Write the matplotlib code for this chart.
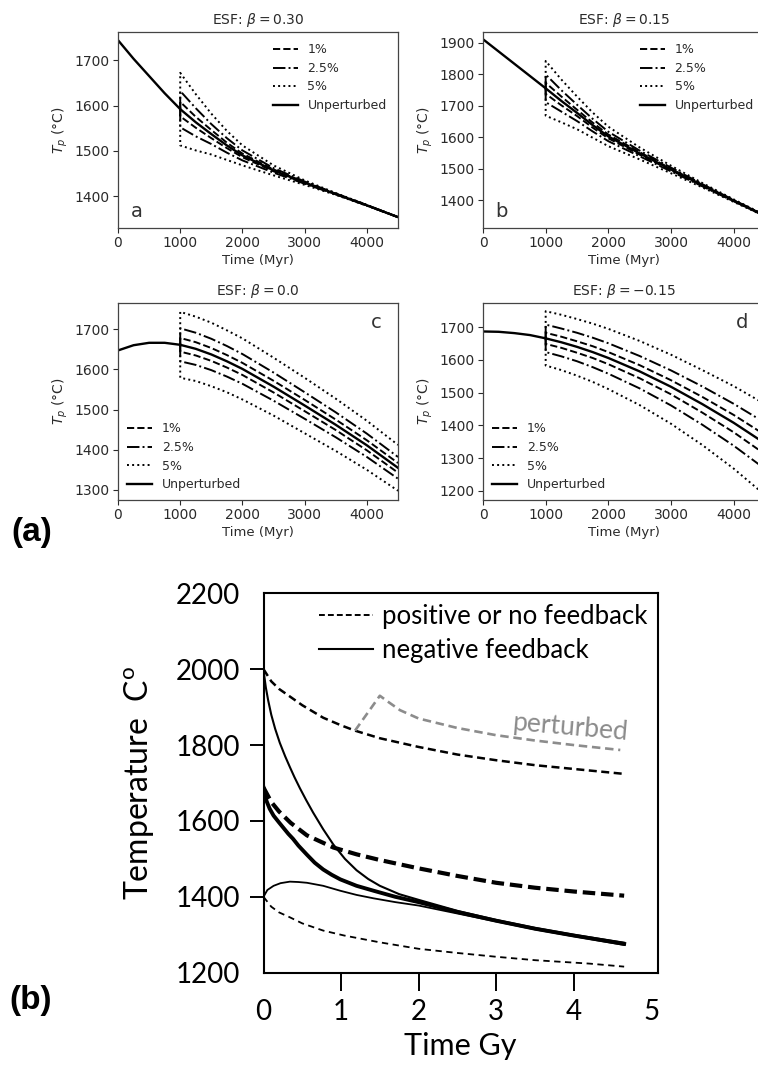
import matplotlib
matplotlib.use("Agg")
import matplotlib.pyplot as plt
from matplotlib.lines import Line2D

# ---------------- data: panel (a) ----------------
t_myr = [0, 250, 500, 750, 1000, 1250, 1500, 1750, 2000, 2500, 3000, 3500, 4000, 4500]
unpert_a = [1744, 1703, 1665, 1627, 1592, 1563, 1537, 1512, 1490, 1457, 1430, 1405, 1380, 1354]
unpert_b = [1911, 1872, 1833, 1794, 1755, 1715, 1677, 1638, 1602, 1548, 1497, 1447, 1398, 1350]
unpert_c = [1647, 1660, 1666, 1666, 1661, 1651, 1637, 1620, 1601, 1557, 1510, 1462, 1411, 1355]
unpert_d = [1687, 1686, 1682, 1676, 1666, 1654, 1640, 1624, 1606, 1565, 1518, 1465, 1408, 1345]
pert_start = 1000
# deviations (deg C) of perturbed runs from unperturbed, at t_myr >= 1000
dev_a_1 = [16, 12, 9, 6, 4, 2, 1, 0.5, 0, 0]
dev_a_25 = [40, 31, 22, 16, 11, 5, 2.5, 1, 0.5, 0]
dev_a_5 = [80, 62, 45, 32, 22, 11, 5, 2, 1, 0]
dev_b_1 = [17.5, 14, 10, 8, 6, 4, 2.4, 1.4, 0.8, 0.4]
dev_b_25 = [44, 34, 26, 20, 15, 9, 6, 3.5, 2, 1]
dev_b_5 = [87, 68, 52, 40, 31, 19, 12, 7, 4, 2]
dev_c_1 = [17, 16.5, 16, 15.5, 15, 14.5, 14, 13, 12.5, 12]
dev_c_25 = [41, 40, 39, 38, 37, 35, 33, 31, 29, 27]
dev_c_5 = [82, 80, 79, 77, 76, 72, 69, 65, 61, 57]
dev_d_1_up = [17, 17, 17, 18, 18, 19, 20, 22, 24, 26]
dev_d_1_dn = [17, 17, 18, 18, 19, 21, 23, 26, 29, 33]
dev_d_25_up = [42, 42, 43, 44, 45, 47, 50, 54, 58, 63]
dev_d_25_dn = [42, 43, 44, 46, 48, 52, 57, 63, 70, 78]
dev_d_5_up = [83, 84, 85, 87, 89, 93, 98, 104, 112, 120]
dev_d_5_dn = [83, 85, 88, 91, 95, 103, 113, 125, 140, 158]
titles = ["ESF: $\\beta = 0.30$", "ESF: $\\beta = 0.15$", "ESF: $\\beta = 0.0$", "ESF: $\\beta = -0.15$"]
panel_letters = ["a", "b", "c", "d"]
pert_labels = ["1%", "2.5%", "5%"]
yticks_top = [[1400, 1500, 1600, 1700], [1400, 1500, 1600, 1700, 1800, 1900],
              [1300, 1400, 1500, 1600, 1700], [1200, 1300, 1400, 1500, 1600, 1700]]
xticks_top = [0, 1000, 2000, 3000, 4000]

# ---------------- data: panel (b) ----------------
gy_pos_hi = [0, 0.1, 0.2, 0.34, 0.5, 0.77, 1.0, 1.18, 1.5, 2.0, 2.5, 3.0, 3.5, 4.0, 4.65]
T_pos_hi = [2000, 1968, 1948, 1928, 1905, 1872, 1852, 1838, 1818, 1795, 1775, 1760, 1747, 1737, 1724]
gy_perturbed = [1.18, 1.50, 1.6, 1.76, 2.0, 2.5, 3.0, 3.5, 4.0, 4.6]
T_perturbed = [1838, 1930, 1915, 1892, 1870, 1845, 1826, 1812, 1800, 1787]
gy_pos_mid = [0, 0.1, 0.2, 0.35, 0.56, 0.9, 1.2, 1.5, 2.0, 2.5, 3.0, 3.5, 4.0, 4.65]
T_pos_mid = [1688, 1650, 1625, 1595, 1562, 1530, 1512, 1497, 1475, 1455, 1437, 1424, 1414, 1403]
gy_pos_lo = [0, 0.1, 0.2, 0.34, 0.5, 0.77, 1.04, 1.5, 2.0, 2.5, 3.0, 3.5, 4.2, 4.65]
T_pos_lo = [1400, 1374, 1359, 1346, 1330, 1311, 1298, 1280, 1263, 1252, 1242, 1233, 1224, 1216]
gy_neg_hi = [0, 0.01, 0.03, 0.06, 0.1, 0.15, 0.21, 0.28, 0.34, 0.4, 0.47, 0.55, 0.64,
             0.77, 0.9, 1.05, 1.2, 1.35, 1.5, 1.75, 2.0, 2.5, 3.0, 3.5, 4.0, 4.65]
T_neg_hi = [2000, 1982, 1952, 1918, 1880, 1843, 1806, 1770, 1742, 1715, 1686, 1655, 1622,
            1578, 1538, 1500, 1470, 1447, 1429, 1407, 1392, 1363, 1339, 1318, 1300, 1279]
gy_neg_mid = [0, 0.02, 0.04, 0.08, 0.13, 0.2, 0.26, 0.32, 0.38, 0.45, 0.56, 0.66, 0.77,
              0.88, 0.99, 1.2, 1.42, 1.7, 2.0, 2.5, 3.0, 3.5, 4.0, 4.65]
T_neg_mid = [1688, 1668, 1652, 1632, 1614, 1596, 1581, 1566, 1553, 1535, 1511, 1490, 1472,
             1458, 1446, 1429, 1416, 1400, 1386, 1360, 1337, 1316, 1298, 1276]
gy_neg_lo = [0, 0.05, 0.13, 0.22, 0.34, 0.45, 0.56, 0.77, 0.99, 1.2, 1.42, 1.7, 2.0, 2.5, 3.0, 3.5, 4.0, 4.65]
T_neg_lo = [1400, 1418, 1429, 1436, 1440, 1439, 1437, 1429, 1416, 1405, 1396, 1386, 1377, 1356, 1335, 1314, 1296, 1273]
legend_b = ["positive or no feedback", "negative feedback"]

# ---------------- figure ----------------
W, H = 758, 1066
fig = plt.figure(figsize=(W / 100, H / 100), dpi=100)


def rect(l, r, t, b):
    return [l / W, 1 - b / H, (r - l) / W, (b - t) / H]


top_rects = [rect(118, 398, 32, 228), rect(483, 765, 32, 228),
             rect(118, 398, 303, 500), rect(483, 765, 303, 500)]
ylims = [(1330, 1762), (1311, 1934), (1275, 1765), (1172, 1774)]
unperts = [unpert_a, unpert_b, unpert_c, unpert_d]
devs_up = [[dev_a_1, dev_a_25, dev_a_5], [dev_b_1, dev_b_25, dev_b_5],
           [dev_c_1, dev_c_25, dev_c_5], [dev_d_1_up, dev_d_25_up, dev_d_5_up]]
devs_dn = [[dev_a_1, dev_a_25, dev_a_5], [dev_b_1, dev_b_25, dev_b_5],
           [dev_c_1, dev_c_25, dev_c_5], [dev_d_1_dn, dev_d_25_dn, dev_d_5_dn]]
styles = ["--", "-.", ":"]
gray = "#2a2a2a"

for i in range(4):
    ax = fig.add_axes(top_rects[i])
    base = unperts[i]
    k0 = t_myr.index(pert_start)
    tp = t_myr[k0:]
    bp = base[k0:]
    for j in range(3):
        up = [b + d for b, d in zip(bp, devs_up[i][j])]
        dn = [b - d for b, d in zip(bp, devs_dn[i][j])]
        ax.plot([tp[0]] + tp, [bp[0]] + up, styles[j], color="black", lw=1.4,
                label=pert_labels[j])
        ax.plot([tp[0]] + tp, [bp[0]] + dn, styles[j], color="black", lw=1.4)
    ax.plot(t_myr, base, "-", color="black", lw=1.7, label="Unperturbed")
    ax.set_xlim(0, 4500)
    ax.set_ylim(*ylims[i])
    ax.set_xticks(xticks_top)
    ax.set_yticks(yticks_top[i])
    ax.tick_params(labelsize=10, colors=gray, length=3.5, width=0.8, pad=2.5)
    for s in ax.spines.values():
        s.set_color("#444444")
        s.set_linewidth(0.9)
    ax.set_title(titles[i], fontsize=10, color=gray, pad=6)
    ax.set_xlabel("Time (Myr)", fontsize=9.5, color=gray, labelpad=2.5)
    ax.set_ylabel("$T_p$ (°C)", fontsize=10, color=gray, labelpad=3)
    if i < 2:
        ax.legend(loc="upper right", frameon=False, fontsize=9, labelspacing=0.45,
                  handlelength=2.0, borderaxespad=0.5, labelcolor=gray)
        ax.text(0.045, 0.035, panel_letters[i], transform=ax.transAxes, fontsize=14,
                color="#333333", ha="left", va="bottom")
    else:
        ax.legend(loc="lower left", frameon=False, fontsize=9, labelspacing=0.45,
                  handlelength=2.0, borderaxespad=0.3, labelcolor=gray)
        ax.text(0.94, 0.95, panel_letters[i], transform=ax.transAxes, fontsize=14,
                color="#333333", ha="right", va="top")

fig.text(32 / W, 1 - 533 / H, "(a)", fontsize=24, fontweight="bold",
         family="Liberation Sans", ha="center", va="center")
fig.text(31 / W, 1 - 1001 / H, "(b)", fontsize=24, fontweight="bold",
         family="Liberation Sans", ha="center", va="center")

# ---------------- bottom panel ----------------
fb = "Lato"
axb = fig.add_axes(rect(263.5, 657.5, 593.3, 972.7))
axb.plot(gy_pos_hi, T_pos_hi, color="black", lw=1.8, dashes=(3.2, 1.8))
axb.plot(gy_perturbed, T_perturbed, color="#8c8c8c", lw=1.9, dashes=(3.2, 1.8))
axb.plot(gy_pos_mid, T_pos_mid, color="black", lw=3.0, dashes=(3.0, 1.4))
axb.plot(gy_pos_lo, T_pos_lo, color="black", lw=1.3, dashes=(3.5, 2.5))
axb.plot(gy_neg_hi, T_neg_hi, color="black", lw=1.5)
axb.plot(gy_neg_mid, T_neg_mid, color="black", lw=2.8)
axb.plot(gy_neg_lo, T_neg_lo, color="black", lw=1.3)
axb.set_xlim(0, 5.08)
axb.set_ylim(1200, 2200)
axb.set_xticks([0, 1, 2, 3, 4, 5])
axb.set_yticks([1200, 1400, 1600, 1800, 2000, 2200])
for lab in axb.get_xticklabels() + axb.get_yticklabels():
    lab.set_family(fb)
    lab.set_fontsize(20)
axb.tick_params(axis="x", length=13, width=1.4, pad=6)
axb.tick_params(axis="y", length=10, width=1.4, pad=7)
xt = axb.xaxis.get_major_ticks()
xt[0].tick1line.set_visible(False)
xt[-1].tick1line.set_visible(False)
yt = axb.yaxis.get_major_ticks()
yt[0].tick1line.set_visible(False)
yt[-1].tick1line.set_visible(False)
for s in axb.spines.values():
    s.set_linewidth(1.5)
axb.set_xlabel("Time Gy", family=fb, fontsize=22, labelpad=5)
axb.set_ylabel("Temperature  C$^{\\mathregular{o}}$", family=fb, fontsize=23, labelpad=13.5)
axb.text(3.95, 1846, "perturbed", family=fb, fontsize=19, color="#8c8c8c",
         rotation=-5, ha="center", va="center")
handles = [Line2D([], [], color="black", lw=1.4, dashes=(3.0, 1.6)),
           Line2D([], [], color="black", lw=1.5)]
axb.legend(handles, legend_b, loc="upper right", frameon=False,
           prop={"family": fb, "size": 18.5}, handlelength=2.1, handletextpad=0.35,
           labelspacing=0.35, borderaxespad=0.15, borderpad=0.25)

fig.savefig("out.png", dpi=100)
